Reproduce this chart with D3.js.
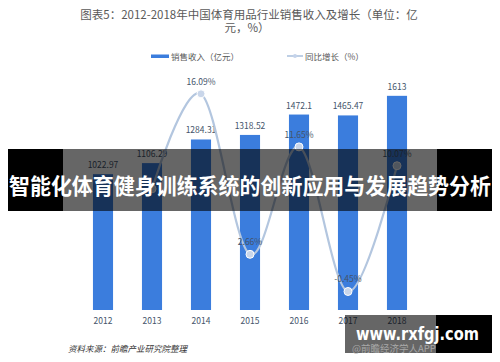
<!DOCTYPE html>
<html>
<head>
<meta charset="utf-8">
<script src="https://cdn.jsdelivr.net/npm/d3@7"></script>
<style>
  body { margin: 0; background: #fff; }
  svg { display: block; font-family: "Noto Sans CJK SC", "Noto Sans", sans-serif; }
</style>
</head>
<body>
<div class="canvas"></div>
<script>
const years = ['2012', '2013', '2014', '2015', '2016', '2017', '2018']
const revenue = [1022.97, 1106.29, 1284.31, 1318.52, 1472.1, 1465.47, 1613]
const growthYears = ['2013', '2014', '2015', '2016', '2017', '2018']
const growth = [8.14, 16.09, 2.66, 11.65, -0.45, 10.07]
// 2013 label sits under the headline banner and is not shown
const growthLabels = ['', '16.09%', '2.66%', '11.65%', '-0.45%', '10.07%']

const width = 500
const height = 362

const svg = d3
  .select('.canvas')
  .append('svg')
  .attr('width', width)
  .attr('height', height)

svg.append('rect').attr('width', width).attr('height', height).attr('fill', '#fff')

// Title
const title = svg.append('g').attr('fill', '#595959').attr('font-size', 11.5)
title.append('text').attr('x', 249).attr('y', 18.5).attr('text-anchor', 'middle')
  .text('图表5：2012-2018年中国体育用品行业销售收入及增长（单位：亿')
title.append('text').attr('x', 247).attr('y', 32).attr('text-anchor', 'middle')
  .text('元，%）')

// Legend
const legend = svg.append('g').attr('font-size', 8.5).attr('fill', '#595959')
legend.append('rect').attr('x', 151).attr('y', 54.5).attr('width', 18).attr('height', 3.5).attr('fill', '#3b7ddd')
legend.append('text').attr('x', 171).attr('y', 59.5).text('销售收入（亿元）')
legend.append('line').attr('x1', 287).attr('x2', 303).attr('y1', 56).attr('y2', 56)
  .attr('stroke', '#a9bfdc').attr('stroke-width', 1.5)
legend.append('circle').attr('cx', 295).attr('cy', 56).attr('r', 2).attr('fill', '#c4d3ea')
legend.append('text').attr('x', 305).attr('y', 59.5).text('同比增长（%）')

// Scales
const x = d3.scaleBand().domain(years).range([78.5, 421.5]).paddingInner(0.59).paddingOuter(0.295)
const y = d3.scaleLinear().domain([0, 1800]).range([310, 71])
const y2 = d3.scaleLinear().domain([-2, 18]).range([310, 71])

const graph = svg.append('g')

// Bars
graph.selectAll('rect.bar')
  .data(revenue)
  .enter()
  .append('rect')
  .attr('class', 'bar')
  .attr('x', (d, i) => x(years[i]))
  .attr('y', d => y(d))
  .attr('width', x.bandwidth())
  .attr('height', d => y(0) - y(d))
  .attr('fill', '#3b7ddd')

graph.selectAll('text.bar-label')
  .data(revenue)
  .enter()
  .append('text')
  .attr('class', 'bar-label')
  .attr('x', (d, i) => x(years[i]) + x.bandwidth() / 2)
  .attr('y', d => y(d) - 6)
  .attr('text-anchor', 'middle')
  .attr('font-size', 8.5)
  .attr('fill', '#44546a')
  .text(d => d)

// X axis labels
const xAxis = d3.axisBottom(x).tickSize(0).tickPadding(8)
const xAxisGroup = graph.append('g').attr('transform', 'translate(0, 310)').call(xAxis)
xAxisGroup.select('.domain').remove()
xAxisGroup.selectAll('text').attr('font-size', 8.5).attr('fill', '#44546a')
  .attr('font-family', '"Noto Sans CJK SC", sans-serif')

// Growth line
const line = d3.line()
  .curve(d3.curveCardinal)
  .x((d, i) => x(growthYears[i]) + x.bandwidth() / 2)
  .y(d => y2(d))

graph.append('path')
  .datum(growth)
  .attr('fill', 'none')
  .attr('stroke', '#b3c6df')
  .attr('stroke-width', 2.2)
  .attr('d', line)

graph.selectAll('circle.pt')
  .data(growth)
  .enter()
  .append('circle')
  .attr('class', 'pt')
  .attr('cx', (d, i) => x(growthYears[i]) + x.bandwidth() / 2)
  .attr('cy', d => y2(d))
  .attr('r', 4)
  .attr('fill', '#c9d6ea')
  .attr('stroke', '#fff')
  .attr('stroke-width', 1)

graph.selectAll('text.pt-label')
  .data(growth)
  .enter()
  .append('text')
  .attr('class', 'pt-label')
  .attr('x', (d, i) => x(growthYears[i]) + x.bandwidth() / 2)
  .attr('y', d => y2(d) - 9)
  .attr('text-anchor', 'middle')
  .attr('font-size', 8.5)
  .attr('fill', '#44546a')
  .text((d, i) => growthLabels[i])

// Source
svg.append('text').attr('x', 68).attr('y', 352).attr('font-size', 8.5)
  .attr('font-style', 'italic').attr('fill', '#333')
  .text('资料来源：前瞻产业研究院整理')

// Headline banner
svg.append('rect').attr('x', 8).attr('y', 149).attr('width', 55).attr('height', 62).attr('fill', '#000')
svg.append('rect').attr('x', 437).attr('y', 149).attr('width', 55).attr('height', 62).attr('fill', '#000')
svg.append('rect').attr('x', 63).attr('y', 149).attr('width', 374).attr('height', 62).attr('fill', 'rgba(0,0,0,0.6)')
svg.append('text').attr('x', 250).attr('y', 194).attr('text-anchor', 'middle')
  .attr('font-size', 22).attr('font-weight', 'bold').attr('fill', '#fff')
  .attr('textLength', 482).attr('lengthAdjust', 'spacingAndGlyphs')
  .text('智能化体育健身训练系统的创新应用与发展趋势分析')

// Site stamp
svg.append('rect').attr('x', 345).attr('y', 315).attr('width', 91).attr('height', 38).attr('fill', 'rgba(0,0,0,0.6)')
svg.append('rect').attr('x', 436).attr('y', 315).attr('width', 56).attr('height', 38).attr('fill', '#000')
svg.append('text').attr('x', 352).attr('y', 352).attr('font-size', 9.5).attr('fill', '#a8a8a8')
  .text('@前瞻经济学人APP')
svg.append('text').attr('x', 417.5).attr('y', 340).attr('text-anchor', 'middle')
  .attr('font-size', 18).attr('font-weight', 'bold').attr('fill', '#fff')
  .attr('font-family', '"DejaVu Sans", sans-serif')
  .attr('textLength', 123).attr('lengthAdjust', 'spacingAndGlyphs')
  .text('www.rxfgj.com')
</script>
</body>
</html>
